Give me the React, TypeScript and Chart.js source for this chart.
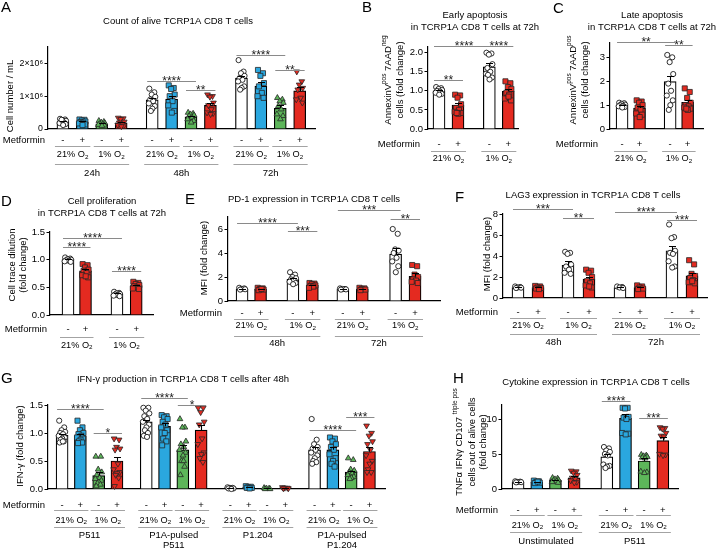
import React, { useEffect, useRef } from 'react';
import { Chart, registerables } from 'chart.js';

Chart.register(...registerables);

const FIG_W = 718;
const FIG_H = 549;
const Y_AXIS_W = 40;
const FONT = '"Liberation Sans", Arial, Helvetica, sans-serif';
Chart.defaults.font.family = FONT;

const KIND_FILL: Record<string, string> = { w: '#ffffff', b: '#2aa7df', g: '#5db65a', r: '#e42a20' };
const GRAY = '#a3a3a3';
const JITTER = [-0.3, 0.22, -0.05, 0.32, -0.2, 0.1, -0.35, 0.28, 0.02, -0.14, 0.18, -0.25, 0.08];

type Kind = 'w' | 'b' | 'g' | 'r';
type Seg = { t: string; s?: 'sup' | 'sub' };

// ---------------- DATA ----------------
// A: Count of alive cells (x10^6 / mL)
const A_GROUPS = ['24h', '48h', '72h'];
const A_KINDS: Kind[] = ['w', 'b', 'g', 'r', 'w', 'b', 'g', 'r', 'w', 'b', 'g', 'r'];
const A_MET = ['-', '+', '-', '+', '-', '+', '-', '+', '-', '+', '-', '+'];
const A_O2 = ['21', '1', '21', '1', '21', '1'];
const A_MEANS = [0.23, 0.21, 0.16, 0.19, 0.89, 0.91, 0.37, 0.72, 1.55, 1.31, 0.63, 1.16];
const A_SEMS = [0.02, 0.02, 0.015, 0.03, 0.07, 0.1, 0.035, 0.08, 0.08, 0.11, 0.11, 0.12];
const A_POINTS = [
  [0.31, 0.29, 0.27, 0.25, 0.22, 0.2, 0.18, 0.15, 0.12, 0.28],
  [0.29, 0.28, 0.26, 0.23, 0.21, 0.19, 0.17, 0.14, 0.12],
  [0.25, 0.22, 0.2, 0.18, 0.16, 0.15, 0.13, 0.11, 0.1],
  [0.34, 0.32, 0.3, 0.22, 0.19, 0.15, 0.12, 0.1, 0.08],
  [1.23, 1.12, 1.05, 0.98, 0.9, 0.85, 0.78, 0.7, 0.62, 0.55],
  [1.33, 1.25, 1.22, 1.05, 1.0, 0.85, 0.72, 0.55, 0.5],
  [0.5, 0.47, 0.45, 0.42, 0.4, 0.35, 0.3, 0.25, 0.2],
  [1.05, 1.0, 0.98, 0.8, 0.72, 0.6, 0.5, 0.48, 0.45],
  [2.1, 1.75, 1.7, 1.62, 1.55, 1.5, 1.45, 1.3, 1.25, 1.2],
  [1.8, 1.7, 1.62, 1.4, 1.3, 1.1, 1.0, 0.95],
  [0.95, 0.9, 0.85, 0.8, 0.7, 0.6, 0.45, 0.4, 0.3],
  [1.75, 1.45, 1.35, 1.25, 1.2, 0.95, 0.9, 0.8],
];
const A_SIG: [number, number, number, string][] = [[4, 6, 1.46, '****'], [6, 7, 1.2, '**'], [8, 10, 2.25, '****'], [10, 11, 1.81, '**']];

// B: Early apoptosis
const B_KINDS: Kind[] = ['w', 'r', 'w', 'r'];
const B_MET = ['-', '+', '-', '+'];
const B_O2 = ['21', '1'];
const B_MEANS = [1.0, 0.63, 1.63, 0.99];
const B_SEMS = [0.02, 0.06, 0.09, 0.06];
const B_POINTS = [
  [1.1, 1.07, 1.05, 1.02, 1.0, 0.98, 0.95, 0.92, 0.9],
  [0.9, 0.88, 0.82, 0.65, 0.55, 0.5, 0.45, 0.42, 0.4, 0.42],
  [2.0, 1.98, 1.95, 1.7, 1.6, 1.5, 1.45, 1.35, 1.3, 1.42],
  [1.25, 1.2, 1.1, 1.05, 0.95, 0.9, 0.8, 0.75, 0.85],
];
const B_SIG: [number, number, number, string][] = [[0, 1, 1.28, '**'], [0, 2, 2.17, '****'], [2, 3, 2.17, '****']];

// C: Late apoptosis
const C_KINDS: Kind[] = ['w', 'r', 'w', 'r'];
const C_MET = ['-', '+', '-', '+'];
const C_O2 = ['21', '1'];
const C_MEANS = [1.0, 0.88, 1.98, 1.12];
const C_SEMS = [0.02, 0.08, 0.24, 0.11];
const C_POINTS = [
  [1.1, 1.08, 1.05, 1.02, 1.0, 0.97, 0.95, 0.92, 0.9],
  [1.2, 1.15, 1.1, 1.0, 0.9, 0.8, 0.65, 0.6, 0.5],
  [3.1, 3.0, 2.8, 2.3, 1.9, 1.6, 1.4, 1.2, 1.0, 0.8],
  [1.7, 1.55, 1.3, 1.1, 1.0, 0.95, 0.9, 0.85, 0.8, 0.85],
];
const C_SIG: [number, number, number, string][] = [[0, 2, 3.64, '**'], [2, 3, 3.53, '**']];

// D: Cell proliferation
const D_KINDS: Kind[] = ['w', 'r', 'w', 'r'];
const D_MET = ['-', '+', '-', '+'];
const D_O2 = ['21', '1'];
const D_MEANS = [1.0, 0.8, 0.38, 0.53];
const D_SEMS = [0.01, 0.03, 0.01, 0.02];
const D_POINTS = [
  [1.04, 1.02, 1.01, 1.0, 0.99, 0.98, 0.97, 0.96],
  [0.92, 0.9, 0.86, 0.82, 0.8, 0.76, 0.72, 0.68, 0.7],
  [0.42, 0.4, 0.39, 0.38, 0.37, 0.36, 0.35, 0.34],
  [0.6, 0.58, 0.56, 0.54, 0.52, 0.5, 0.48, 0.47],
];
const D_SIG: [number, number, number, string][] = [[0, 2, 1.39, '****'], [0, 1, 1.23, '****'], [2, 3, 0.8, '****']];

// E: PD-1 expression
const E_GROUPS = ['48h', '72h'];
const E_KINDS: Kind[] = ['w', 'r', 'w', 'r', 'w', 'r', 'w', 'r'];
const E_MET = ['-', '+', '-', '+', '-', '+', '-', '+'];
const E_O2 = ['21', '1', '21', '1'];
const E_MEANS = [1.0, 1.0, 1.8, 1.3, 1.0, 1.0, 3.9, 2.05];
const E_SEMS = [0.03, 0.04, 0.1, 0.06, 0.02, 0.04, 0.5, 0.25];
const E_POINTS = [
  [1.1, 1.05, 1.0, 0.98, 0.95],
  [1.1, 1.05, 1.0, 0.95, 0.9, 1.0],
  [2.4, 2.2, 2.0, 1.9, 1.8, 1.7, 1.6, 1.5, 1.4],
  [1.5, 1.45, 1.4, 1.3, 1.25, 1.2, 1.1],
  [1.05, 1.0, 1.0, 0.97, 0.95],
  [1.1, 1.05, 1.0, 0.95, 0.9],
  [6.0, 5.6, 4.3, 4.2, 4.0, 3.6, 3.3, 2.9, 2.4],
  [3.0, 2.9, 2.2, 2.0, 1.8, 1.7, 1.6, 1.5],
];
const E_SIG: [number, number, number, string][] = [[0, 2, 6.5, '****'], [2, 3, 5.85, '***'], [4, 6, 7.6, '***'], [6, 7, 6.8, '**']];

// F: LAG3 expression
const F_GROUPS = ['48h', '72h'];
const F_KINDS: Kind[] = ['w', 'r', 'w', 'r', 'w', 'r', 'w', 'r'];
const F_MET = ['-', '+', '-', '+', '-', '+', '-', '+'];
const F_O2 = ['21', '1', '21', '1'];
const F_MEANS = [1.0, 1.0, 3.1, 1.8, 1.0, 1.0, 4.5, 2.1];
const F_SEMS = [0.03, 0.05, 0.4, 0.2, 0.03, 0.05, 0.5, 0.3];
const F_POINTS = [
  [1.1, 1.05, 1.0, 0.98, 0.95],
  [1.15, 1.1, 1.0, 0.95, 0.9, 0.85],
  [4.4, 4.3, 4.2, 3.2, 3.0, 2.7, 2.4, 2.3],
  [2.7, 2.6, 2.4, 2.0, 1.6, 1.4, 1.2, 1.0, 1.1],
  [1.1, 1.05, 1.0, 0.95],
  [1.2, 1.1, 1.0, 0.9, 0.85],
  [7.0, 5.8, 5.7, 4.5, 4.3, 4.2, 3.5, 3.0, 2.9],
  [3.6, 3.2, 2.3, 2.1, 1.9, 1.7, 1.5, 1.4, 1.6],
];
const F_SIG: [number, number, number, string][] = [[0, 2, 8.5, '***'], [2, 3, 7.65, '**'], [4, 6, 8.2, '****'], [6, 7, 7.4, '***']];

// G: IFN-γ production
const G_GROUPS = [['P511'], ['P1A-pulsed', 'P511'], ['P1.204'], ['P1A-pulsed', 'P1.204']];
const G_KINDS: Kind[] = ['w', 'b', 'g', 'r', 'w', 'b', 'g', 'r', 'w', 'b', 'g', 'r', 'w', 'b', 'g', 'r'];
const G_MET = ['-', '+', '-', '+', '-', '+', '-', '+', '-', '+', '-', '+', '-', '+', '-', '+'];
const G_O2 = ['21', '1', '21', '1', '21', '1', '21', '1'];
const G_MEANS = [0.96, 0.95, 0.24, 0.5, 1.2, 1.12, 0.7, 1.05, 0.02, 0.03, 0.01, 0.02, 0.7, 0.7, 0.3, 0.67];
const G_SEMS = [0.03, 0.03, 0.06, 0.08, 0.04, 0.05, 0.09, 0.1, 0.004, 0.005, 0.003, 0.004, 0.05, 0.05, 0.03, 0.08];
const G_POINTS = [
  [1.22, 1.1, 1.05, 1.02, 1.0, 0.98, 0.95, 0.92, 0.9, 0.88, 0.85, 0.83, 0.85],
  [1.22, 1.1, 1.05, 1.0, 0.98, 0.95, 0.92, 0.9, 0.88, 0.85, 0.83, 0.82],
  [0.58, 0.58, 0.35, 0.3, 0.25, 0.2, 0.18, 0.15, 0.12, 0.1, 0.08, 0.05],
  [0.9, 0.88, 0.75, 0.72, 0.7, 0.45, 0.35, 0.3, 0.28, 0.25, 0.2, 0.05],
  [1.45, 1.45, 1.4, 1.35, 1.3, 1.25, 1.2, 1.15, 1.1, 1.05, 1.0, 0.95, 0.93],
  [1.32, 1.3, 1.28, 1.25, 1.2, 1.15, 1.1, 1.05, 1.0, 0.9, 0.85, 0.78],
  [1.25, 1.1, 1.1, 0.85, 0.8, 0.75, 0.7, 0.65, 0.6, 0.5, 0.4, 0.25, 0.5],
  [1.45, 1.45, 1.37, 1.2, 1.15, 0.9, 0.8, 0.65, 0.62, 0.55, 0.48],
  [0.03, 0.02, 0.02, 0.01, 0.01, 0.0],
  [0.05, 0.04, 0.03, 0.02, 0.02, 0.01],
  [0.02, 0.01, 0.01, 0.0, 0.0],
  [0.03, 0.02, 0.02, 0.01, 0.01],
  [1.25, 0.88, 0.8, 0.75, 0.72, 0.7, 0.65, 0.6, 0.55, 0.5, 0.48, 0.45],
  [0.92, 0.9, 0.85, 0.8, 0.75, 0.7, 0.62, 0.55, 0.5, 0.45, 0.4],
  [0.55, 0.52, 0.35, 0.33, 0.3, 0.28, 0.25, 0.22, 0.2, 0.18],
  [1.13, 1.0, 0.95, 0.85, 0.8, 0.7, 0.6, 0.5, 0.45, 0.35, 0.3, 0.3],
];
const G_SIG: [number, number, number, string][] = [[0, 2, 1.42, '****'], [2, 3, 1.0, '*'], [4, 6, 1.62, '****'], [6, 7, 1.5, '*'], [12, 14, 1.06, '****'], [14, 15, 1.29, '***']];

// H: Cytokine expression
const H_GROUPS = ['Unstimulated', 'P511'];
const H_KINDS: Kind[] = ['w', 'b', 'g', 'r', 'w', 'b', 'g', 'r'];
const H_MET = ['-', '+', '-', '+', '-', '+', '-', '+'];
const H_O2 = ['21', '1', '21', '1'];
const H_MEANS = [1.0, 1.0, 1.25, 1.6, 4.6, 10.1, 4.0, 6.9];
const H_SEMS = [0.03, 0.05, 0.08, 0.2, 0.4, 0.6, 0.4, 0.6];
const H_POINTS = [
  [1.1, 1.05, 1.0, 0.98, 0.95],
  [1.2, 1.1, 1.0, 0.9, 0.85, 1.05],
  [1.6, 1.5, 1.4, 1.3, 1.2, 1.1, 1.0, 0.9],
  [2.6, 2.5, 2.3, 2.0, 1.6, 1.4, 1.2, 1.0, 0.9],
  [6.0, 5.8, 5.5, 5.3, 5.0, 4.8, 3.5, 3.3, 3.2, 3.0],
  [11.6, 11.6, 11.5, 10.3, 10.2, 10.0, 8.0, 7.9, 7.8],
  [4.9, 4.8, 4.7, 4.6, 4.5, 4.4, 2.5, 2.4, 2.3],
  [8.8, 8.7, 8.6, 8.0, 7.6, 7.5, 5.0, 4.9, 4.8],
];
const H_SIG: [number, number, number, string][] = [[4, 5, 12.55, '****'], [6, 7, 10.15, '***']];

// ---------------- LAYOUT ----------------
function groupedSlots(nGroups: number, perGroup: number, stride: number) {
  const out: number[] = [];
  for (let g = 0; g < nGroups; g++) for (let i = 0; i < perGroup; i++) out.push(g * stride + i);
  return out;
}
function pairsOf(o2: string[]): [number, number, string][] {
  return o2.map((o, k) => [2 * k, 2 * k + 1, o] as [number, number, string]);
}

interface Panel {
  letter: string; letterPos: [number, number];
  title: string[]; titlePos: [number, number];
  area: [number, number, number, number];
  yMax: number; yStep: number; yFmt: (v: number) => string; tickSize: number;
  xRange: [number, number]; xs: number[]; barW: number;
  kinds: Kind[]; redTri: boolean;
  means: number[]; sems: number[]; points: number[][];
  sig: [number, number, number, string][];
  ylab: { lines: Seg[][]; xs: number[]; yc: number };
  met: string[]; metRight: number;
  pairs: [number, number, string][];
  groups: [number, number, string[]][];
  rows: { met: number; pairLine: number; o2: number; groupLine: number; groupLabel: number };
}

const fmt1 = (v: number) => v.toFixed(1);
const fmt0 = (v: number) => String(Math.round(v * 100) / 100);
const annexLines = (lab: string): Seg[][] => [
  [{ t: 'AnnexinV' }, { t: 'pos', s: 'sup' }, { t: ' 7AAD' }, { t: lab, s: 'sup' }],
  [{ t: 'cells (fold change)' }],
];

const PANELS: Panel[] = [
  {
    letter: 'A', letterPos: [1, 11.5], title: ['Count of alive TCRP1A CD8 T cells'], titlePos: [178, 21],
    area: [48, 47, 315, 129], yMax: 2.5, yStep: 1, yFmt: (v) => (v === 0 ? '0' : `${Math.round(v)}×10⁶`), tickSize: 8.8,
    xRange: [-0.77, 12.99], xs: groupedSlots(3, 4, 4.6), barW: 12, kinds: A_KINDS, redTri: true,
    means: A_MEANS, sems: A_SEMS, points: A_POINTS, sig: A_SIG,
    ylab: { lines: [[{ t: 'Cell number / mL' }]], xs: [10], yc: 96 },
    met: A_MET, metRight: 45, pairs: pairsOf(A_O2),
    groups: A_GROUPS.map((g, k) => [4 * k, 4 * k + 3, [g]] as [number, number, string[]]),
    rows: { met: 140.5, pairLine: 146, o2: 154.5, groupLine: 163.5, groupLabel: 173.5 },
  },
  {
    letter: 'B', letterPos: [362, 12], title: ['Early apoptosis', 'in TCRP1A CD8 T cells at 72h'], titlePos: [475, 15],
    area: [428, 47, 518, 129], yMax: 2.15, yStep: 0.5, yFmt: fmt1, tickSize: 9.5,
    xRange: [-0.58, 4.16], xs: [0, 1, 2.65, 3.65], barW: 12, kinds: B_KINDS, redTri: false,
    means: B_MEANS, sems: B_SEMS, points: B_POINTS, sig: B_SIG,
    ylab: { lines: annexLines('neg'), xs: [388, 400], yc: 80 },
    met: B_MET, metRight: 420, pairs: pairsOf(B_O2), groups: [],
    rows: { met: 144, pairLine: 151, o2: 158.5, groupLine: 0, groupLabel: 0 },
  },
  {
    letter: 'C', letterPos: [553, 13], title: ['Late apoptosis', 'in TCRP1A CD8 T cells at 72h'], titlePos: [652, 15],
    area: [610, 43, 703, 129], yMax: 3.6, yStep: 1, yFmt: fmt0, tickSize: 9.5,
    xRange: [-0.69, 4.63], xs: [0, 1, 2.75, 3.75], barW: 12, kinds: C_KINDS, redTri: false,
    means: C_MEANS, sems: C_SEMS, points: C_POINTS, sig: C_SIG,
    ylab: { lines: annexLines('pos'), xs: [573, 585], yc: 80 },
    met: C_MET, metRight: 598, pairs: pairsOf(C_O2), groups: [],
    rows: { met: 144, pairLine: 151, o2: 158.5, groupLine: 0, groupLabel: 0 },
  },
  {
    letter: 'D', letterPos: [1, 206], title: ['Cell proliferation', 'in TCRP1A CD8 T cells at 72h'], titlePos: [102, 201],
    area: [50, 232, 153, 315], yMax: 1.5, yStep: 0.5, yFmt: fmt1, tickSize: 9.5,
    xRange: [-1.03, 4.86], xs: [0, 1, 2.8, 3.9], barW: 12, kinds: D_KINDS, redTri: false,
    means: D_MEANS, sems: D_SEMS, points: D_POINTS, sig: D_SIG,
    ylab: { lines: [[{ t: 'Cell trace dilution' }], [{ t: '(fold change)' }]], xs: [12, 23], yc: 265 },
    met: D_MET, metRight: 47, pairs: pairsOf(D_O2), groups: [],
    rows: { met: 329.5, pairLine: 337, o2: 345, groupLine: 0, groupLabel: 0 },
  },
  {
    letter: 'E', letterPos: [185, 204], title: ['PD-1 expression in TCRP1A CD8 T cells'], titlePos: [314, 199],
    area: [228, 217, 440, 301], yMax: 7, yStep: 2, yFmt: fmt0, tickSize: 9.5,
    xRange: [-0.76, 10.7], xs: [0, 1, 2.75, 3.8, 5.45, 6.5, 8.3, 9.35], barW: 12, kinds: E_KINDS, redTri: false,
    means: E_MEANS, sems: E_SEMS, points: E_POINTS, sig: E_SIG,
    ylab: { lines: [[{ t: 'MFI (fold change)' }]], xs: [204], yc: 258 },
    met: E_MET, metRight: 222, pairs: pairsOf(E_O2),
    groups: E_GROUPS.map((g, k) => [4 * k, 4 * k + 3, [g]] as [number, number, string[]]),
    rows: { met: 313, pairLine: 318.5, o2: 325.5, groupLine: 335.5, groupLabel: 343 },
  },
  {
    letter: 'F', letterPos: [455, 202], title: ['LAG3 expression in TCRP1A CD8 T cells'], titlePos: [593, 195],
    area: [503, 214, 707, 298], yMax: 8, yStep: 2, yFmt: fmt0, tickSize: 9.5,
    xRange: [-0.75, 9.45], xs: [0, 1, 2.5, 3.55, 5.1, 6.1, 7.7, 8.7], barW: 12, kinds: F_KINDS, redTri: false,
    means: F_MEANS, sems: F_SEMS, points: F_POINTS, sig: F_SIG,
    ylab: { lines: [[{ t: 'MFI (fold change)' }]], xs: [487], yc: 254 },
    met: F_MET, metRight: 498, pairs: pairsOf(F_O2),
    groups: F_GROUPS.map((g, k) => [4 * k, 4 * k + 3, [g]] as [number, number, string[]]),
    rows: { met: 312.5, pairLine: 317.5, o2: 325, groupLine: 333.5, groupLabel: 342 },
  },
  {
    letter: 'G', letterPos: [1, 383], title: ['IFN-γ production in TCRP1A CD8 T cells after 48h'], titlePos: [183, 379],
    area: [48, 405, 385, 489], yMax: 1.5, yStep: 0.5, yFmt: fmt1, tickSize: 9.5,
    xRange: [-0.77, 17.65], xs: groupedSlots(4, 4, 4.6), barW: 12, kinds: G_KINDS, redTri: true,
    means: G_MEANS, sems: G_SEMS, points: G_POINTS, sig: G_SIG,
    ylab: { lines: [[{ t: 'IFN-γ (fold change)' }]], xs: [20], yc: 446 },
    met: G_MET, metRight: 45, pairs: pairsOf(G_O2),
    groups: G_GROUPS.map((g, k) => [4 * k, 4 * k + 3, g] as [number, number, string[]]),
    rows: { met: 505, pairLine: 510, o2: 520, groupLine: 527, groupLabel: 535 },
  },
  {
    letter: 'H', letterPos: [453, 383], title: ['Cytokine expression in TCRP1A CD8 T cells'], titlePos: [596, 382],
    area: [502, 405, 678, 489], yMax: 12, yStep: 5, yFmt: fmt0, tickSize: 9.5,
    xRange: [-0.86, 8.56], xs: groupedSlots(2, 4, 4.75), barW: 12, kinds: H_KINDS, redTri: true,
    means: H_MEANS, sems: H_SEMS, points: H_POINTS, sig: H_SIG,
    ylab: {
      lines: [
        [{ t: 'TNFα IFNγ CD107 ' }, { t: 'triple pos', s: 'sup' }],
        [{ t: 'cells out of alive cells' }],
        [{ t: '(fold change)' }],
      ],
      xs: [459, 472, 483], yc: 442,
    },
    met: H_MET, metRight: 498, pairs: pairsOf(H_O2),
    groups: H_GROUPS.map((g, k) => [4 * k, 4 * k + 3, [g]] as [number, number, string[]]),
    rows: { met: 510, pairLine: 515, o2: 525, groupLine: 532, groupLabel: 541 },
  },
];

// ---------------- DRAWING HELPERS ----------------
function font(size: number) {
  return `${size}px ${FONT}`;
}
function drawRich(ctx: CanvasRenderingContext2D, segs: Seg[], x: number, y: number, size: number, align: 'left' | 'center' | 'right') {
  const widths = segs.map((s) => {
    ctx.font = font(s.s ? size * 0.68 : size);
    return ctx.measureText(s.t).width;
  });
  const total = widths.reduce((a, b) => a + b, 0);
  let cx = align === 'center' ? x - total / 2 : align === 'right' ? x - total : x;
  ctx.textAlign = 'left';
  ctx.textBaseline = 'middle';
  segs.forEach((s, i) => {
    ctx.font = font(s.s ? size * 0.68 : size);
    const dy = s.s === 'sup' ? -size * 0.38 : s.s === 'sub' ? size * 0.3 : 0;
    ctx.fillText(s.t, cx, y + dy);
    cx += widths[i];
  });
}
function hline(ctx: CanvasRenderingContext2D, x1: number, x2: number, y: number) {
  const yy = Math.round(y) + 0.5;
  ctx.beginPath();
  ctx.moveTo(x1, yy);
  ctx.lineTo(x2, yy);
  ctx.stroke();
}

function makePlugin(p: Panel) {
  return {
    id: 'deco' + p.letter,
    afterDatasetsDraw(chart: any) {
      const ctx: CanvasRenderingContext2D = chart.ctx;
      const xs = chart.scales.x;
      const ys = chart.scales.y;
      ctx.save();
      ctx.strokeStyle = '#000';
      ctx.lineWidth = 1.1;
      p.means.forEach((m, i) => {
        const x = Math.round(xs.getPixelForValue(p.xs[i])) + 0.5;
        const y0 = ys.getPixelForValue(m);
        const y1 = Math.round(ys.getPixelForValue(m + p.sems[i])) + 0.5;
        ctx.beginPath();
        ctx.moveTo(x, y0);
        ctx.lineTo(x, y1);
        ctx.moveTo(x - 3.5, y1);
        ctx.lineTo(x + 3.5, y1);
        ctx.stroke();
      });
      ctx.restore();
    },
    afterDraw(chart: any) {
      const ctx: CanvasRenderingContext2D = chart.ctx;
      const xs = chart.scales.x;
      const ys = chart.scales.y;
      const px = (i: number) => xs.getPixelForValue(p.xs[i]);
      ctx.save();
      // significance brackets
      p.sig.forEach(([a, b, v, lab]) => {
        const y = ys.getPixelForValue(v);
        const x1 = px(a) - 5;
        const x2 = px(b) + 5;
        ctx.strokeStyle = '#8a8a8a';
        ctx.lineWidth = 1;
        hline(ctx, x1, x2, y);
        ctx.fillStyle = '#222';
        ctx.font = font(12);
        ctx.textAlign = 'center';
        ctx.textBaseline = 'alphabetic';
        ctx.fillText(lab, (x1 + x2) / 2, Math.round(y) + 4);
      });
      // metformin row
      ctx.fillStyle = '#000';
      ctx.textBaseline = 'middle';
      ctx.font = font(9.5);
      ctx.textAlign = 'right';
      ctx.fillText('Metformin', p.metRight, p.rows.met);
      ctx.textAlign = 'center';
      p.met.forEach((m, i) => ctx.fillText(m, px(i), p.rows.met));
      // O2 pairs
      ctx.strokeStyle = GRAY;
      ctx.lineWidth = 1;
      p.pairs.forEach(([a, b, o2]) => {
        hline(ctx, px(a) - 8, px(b) + 8, p.rows.pairLine);
        drawRich(ctx, [{ t: `${o2}% O` }, { t: '2', s: 'sub' }], (px(a) + px(b)) / 2, p.rows.o2, 9.2, 'center');
      });
      // groups
      p.groups.forEach(([a, b, labels]) => {
        ctx.strokeStyle = GRAY;
        hline(ctx, px(a) - 8, px(b) + 8, p.rows.groupLine);
        ctx.font = font(9.5);
        ctx.textAlign = 'center';
        ctx.textBaseline = 'middle';
        labels.forEach((l, k) => ctx.fillText(l, (px(a) + px(b)) / 2, p.rows.groupLabel + k * 10));
      });
      // title
      ctx.font = font(9.5);
      ctx.textAlign = 'center';
      ctx.textBaseline = 'middle';
      p.title.forEach((t, k) => ctx.fillText(t, p.titlePos[0], p.titlePos[1] + k * 12));
      // panel letter
      ctx.font = font(15);
      ctx.textAlign = 'left';
      ctx.textBaseline = 'alphabetic';
      ctx.fillText(p.letter, p.letterPos[0], p.letterPos[1]);
      // y axis label
      p.ylab.lines.forEach((segs, k) => {
        ctx.save();
        ctx.translate(p.ylab.xs[k], p.ylab.yc);
        ctx.rotate(-Math.PI / 2);
        drawRich(ctx, segs, 0, 0, 9.5, 'center');
        ctx.restore();
      });
      ctx.restore();
    },
  };
}

function buildConfig(p: Panel): any {
  const [L, T, R, B] = p.area;
  const slotPx = (R - L) / (p.xRange[1] - p.xRange[0]);
  const datasets: any[] = [
    {
      type: 'bar',
      data: p.xs.map((x, i) => ({ x, y: p.means[i] })),
      backgroundColor: p.kinds.map((k) => KIND_FILL[k]),
      borderColor: '#000',
      borderWidth: 1.2,
      barThickness: p.barW,
      order: 2,
      clip: false,
    },
  ];
  p.points.forEach((vals, i) => {
    const k = p.kinds[i];
    const tri = k === 'g' || (k === 'r' && p.redTri);
    const style = k === 'w' ? 'circle' : tri ? 'triangle' : 'rect';
    datasets.push({
      type: 'scatter',
      data: vals.map((v, j) => ({ x: p.xs[i] + (JITTER[j % JITTER.length] * p.barW * 0.8) / slotPx, y: v })),
      pointStyle: style,
      pointRadius: k === 'w' ? 2.6 : tri ? 3.3 : 3.6,
      pointRotation: k === 'r' && tri ? 180 : 0,
      backgroundColor: KIND_FILL[k],
      borderColor: k === 'w' ? '#000' : '#262626',
      pointBorderWidth: 0.8,
      borderWidth: 0.8,
      order: 1,
      clip: false,
    });
  });
  return {
    type: 'bar',
    data: { datasets },
    options: {
      responsive: false,
      animation: false,
      events: [],
      layout: { padding: { left: L - Y_AXIS_W, top: T, right: FIG_W - R, bottom: FIG_H - B } },
      plugins: { legend: { display: false }, tooltip: { enabled: false }, title: { display: false } },
      scales: {
        x: {
          type: 'linear',
          min: p.xRange[0],
          max: p.xRange[1],
          offset: false,
          ticks: { display: false },
          grid: { display: false, drawTicks: false },
          border: { display: true, color: '#000', width: 1.2 },
          afterFit: (s: any) => {
            s.height = 0;
          },
        },
        y: {
          type: 'linear',
          min: 0,
          max: p.yMax,
          ticks: {
            stepSize: p.yStep,
            includeBounds: false,
            color: '#000',
            font: { family: FONT, size: p.tickSize },
            padding: 1.5,
            callback: (v: any) => p.yFmt(Number(v)),
          },
          grid: { display: true, drawOnChartArea: false, drawTicks: true, tickLength: 3.5, color: '#000', lineWidth: 1 },
          border: { display: true, color: '#000', width: 1.2 },
          afterFit: (s: any) => {
            s.width = Y_AXIS_W;
          },
        },
      },
    },
    plugins: [makePlugin(p)],
  };
}

function PanelChart({ p }: { p: Panel }) {
  const ref = useRef<HTMLCanvasElement>(null);
  useEffect(() => {
    if (!ref.current) return;
    const chart = new Chart(ref.current, buildConfig(p));
    return () => chart.destroy();
  }, [p]);
  return (
    <canvas
      ref={ref}
      width={FIG_W}
      height={FIG_H}
      style={{ position: 'absolute', left: 0, top: 0, width: FIG_W, height: FIG_H }}
    />
  );
}

export default function App() {
  return (
    <div
      style={{
        position: 'absolute',
        left: 0,
        top: 0,
        width: FIG_W,
        height: FIG_H,
        background: '#fff',
        overflow: 'hidden',
      }}
    >
      {PANELS.map((p) => (
        <PanelChart key={p.letter} p={p} />
      ))}
    </div>
  );
}
